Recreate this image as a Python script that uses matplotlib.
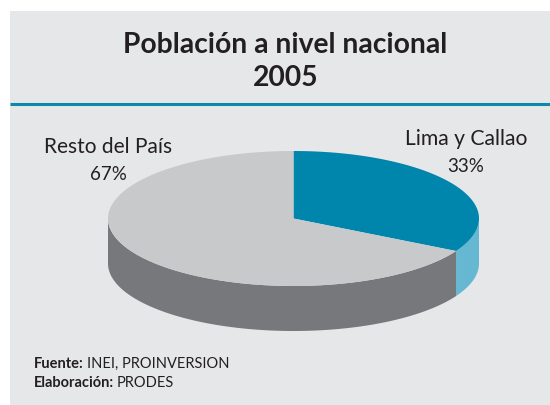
import numpy as np
import matplotlib
matplotlib.use('Agg')
import matplotlib.pyplot as plt
from matplotlib.patches import Rectangle

labels = ['Lima y Callao', 'Resto del País']
shares = [33, 67]
top_colors = ['#0085AC', '#C8C9CB']
side_colors = ['#66B8D2', '#77787B']

title = ['Población a nivel nacional', '2005']
source_heads = ['Fuente:', 'Elaboración:']
source_texts = ['INEI, PROINVERSION', 'PRODES']

WIDTH, HEIGHT = 550, 406
CX, CY, RX, RY, DEPTH = 293.5, 219.5, 185.5, 67.5, 45

plt.rcParams['font.family'] = ['Lato', 'DejaVu Sans']


def ellipse_points(start, end):
    # angles in degrees, clockwise from 12 o'clock
    a = np.radians(np.linspace(start, end, 200))
    return CX + RX * np.sin(a), CY - RY * np.cos(a)


def draw_pie(ax):
    edges = np.cumsum([0] + shares) * 3.6

    # side wall, only the part facing the viewer (90 to 270 degrees)
    for i in range(len(shares)):
        start, end = max(edges[i], 90), min(edges[i + 1], 270)
        if start < end:
            x, y = ellipse_points(start, end)
            ax.fill(np.r_[x, x[::-1]], np.r_[y, y[::-1] + DEPTH],
                    color=side_colors[i], lw=0, zorder=2)

    for i in range(len(shares)):
        x, y = ellipse_points(edges[i], edges[i + 1])
        ax.fill(np.r_[CX, x], np.r_[CY, y], color=top_colors[i], lw=0, zorder=3)


def main():
    fig = plt.figure(figsize=(WIDTH / 100, HEIGHT / 100), dpi=100, facecolor='white')
    ax = fig.add_axes([0, 0, 1, 1])
    ax.set_xlim(0, WIDTH)
    ax.set_ylim(HEIGHT, 0)
    ax.axis('off')

    ax.add_patch(Rectangle((10, 12), WIDTH - 10, HEIGHT - 12, color='#E6E7E9', lw=0, zorder=0))
    ax.plot([10, WIDTH], [104.5, 104.5], color='#0B88AC', lw=2.2, solid_capstyle='butt', zorder=1)

    ax.text(285.5, 45, title[0], ha='center', va='center', fontsize=20.3, fontweight='bold', color='#231F20')
    ax.text(285.5, 78, title[1], ha='center', va='center', fontsize=20.3, fontweight='bold', color='#231F20')

    draw_pie(ax)

    ax.text(466, 139, labels[0], ha='center', va='center', fontsize=15.2, color='#231F20')
    ax.text(466, 167, '%d%%' % shares[0], ha='center', va='center', fontsize=13.5, color='#231F20')
    ax.text(108.5, 147, labels[1], ha='center', va='center', fontsize=15, color='#231F20')
    ax.text(108.5, 175, '%d%%' % shares[1], ha='center', va='center', fontsize=13.5, color='#231F20')

    for head, txt, y in zip(source_heads, source_texts, [364, 383]):
        t = ax.text(34, y, head, ha='left', va='center', fontsize=10.5, fontweight='bold', color='#231F20')
        fig.canvas.draw()
        box = t.get_window_extent()
        ax.text(box.x1 + 3, y, txt, ha='left', va='center', fontsize=10.5, color='#231F20')

    fig.savefig('out.png', dpi=100)


if __name__ == "__main__":
    main()
